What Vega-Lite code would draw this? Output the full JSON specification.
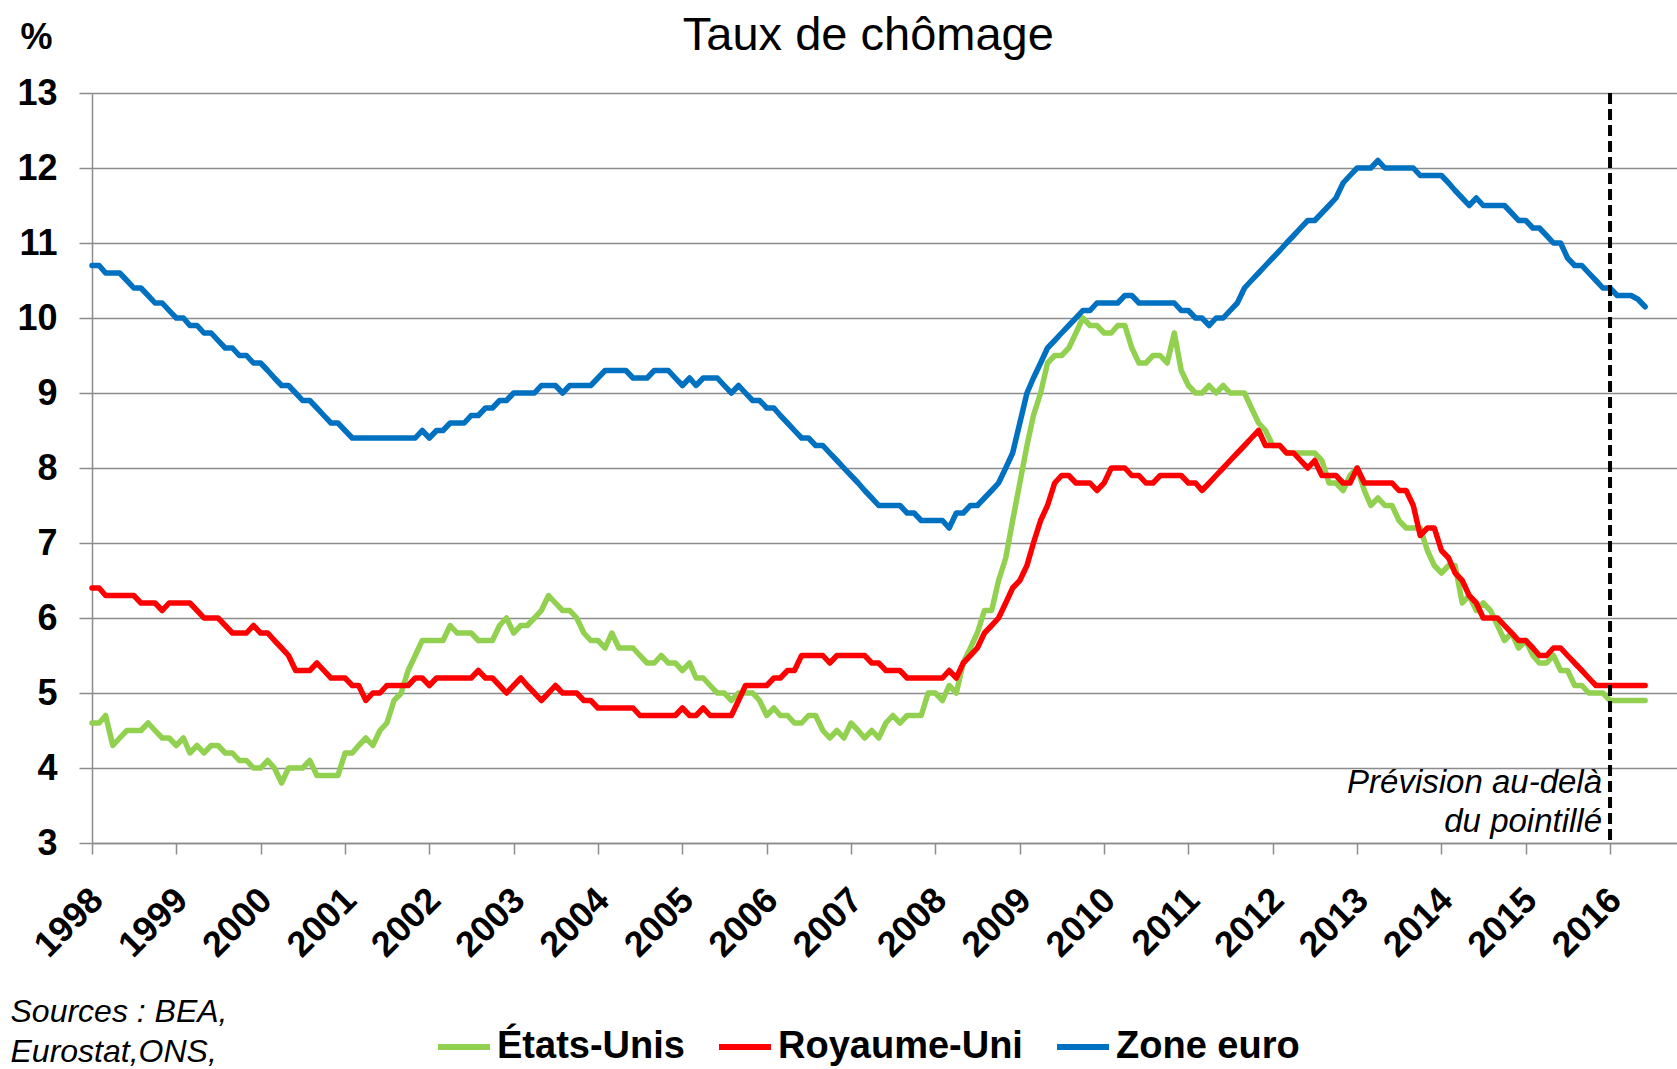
{
  "$schema": "https://vega.github.io/schema/vega-lite/v6.json",
  "width": 1585,
  "height": 750,
  "autosize": {"type": "none"},
  "padding": {"left": 92, "top": 93, "right": 0, "bottom": 226},
  "background": "white",
  "datasets": {
    "series": [
{"date":"1998-01-01","country":"États-Unis","rate":4.6},{"date":"1998-02-01","country":"États-Unis","rate":4.6},{"date":"1998-03-01","country":"États-Unis","rate":4.7},{"date":"1998-04-01","country":"États-Unis","rate":4.3},{"date":"1998-05-01","country":"États-Unis","rate":4.4},{"date":"1998-06-01","country":"États-Unis","rate":4.5},{"date":"1998-07-01","country":"États-Unis","rate":4.5},{"date":"1998-08-01","country":"États-Unis","rate":4.5},{"date":"1998-09-01","country":"États-Unis","rate":4.6},{"date":"1998-10-01","country":"États-Unis","rate":4.5},{"date":"1998-11-01","country":"États-Unis","rate":4.4},{"date":"1998-12-01","country":"États-Unis","rate":4.4},
{"date":"1999-01-01","country":"États-Unis","rate":4.3},{"date":"1999-02-01","country":"États-Unis","rate":4.4},{"date":"1999-03-01","country":"États-Unis","rate":4.2},{"date":"1999-04-01","country":"États-Unis","rate":4.3},{"date":"1999-05-01","country":"États-Unis","rate":4.2},{"date":"1999-06-01","country":"États-Unis","rate":4.3},{"date":"1999-07-01","country":"États-Unis","rate":4.3},{"date":"1999-08-01","country":"États-Unis","rate":4.2},{"date":"1999-09-01","country":"États-Unis","rate":4.2},{"date":"1999-10-01","country":"États-Unis","rate":4.1},{"date":"1999-11-01","country":"États-Unis","rate":4.1},{"date":"1999-12-01","country":"États-Unis","rate":4.0},
{"date":"2000-01-01","country":"États-Unis","rate":4.0},{"date":"2000-02-01","country":"États-Unis","rate":4.1},{"date":"2000-03-01","country":"États-Unis","rate":4.0},{"date":"2000-04-01","country":"États-Unis","rate":3.8},{"date":"2000-05-01","country":"États-Unis","rate":4.0},{"date":"2000-06-01","country":"États-Unis","rate":4.0},{"date":"2000-07-01","country":"États-Unis","rate":4.0},{"date":"2000-08-01","country":"États-Unis","rate":4.1},{"date":"2000-09-01","country":"États-Unis","rate":3.9},{"date":"2000-10-01","country":"États-Unis","rate":3.9},{"date":"2000-11-01","country":"États-Unis","rate":3.9},{"date":"2000-12-01","country":"États-Unis","rate":3.9},
{"date":"2001-01-01","country":"États-Unis","rate":4.2},{"date":"2001-02-01","country":"États-Unis","rate":4.2},{"date":"2001-03-01","country":"États-Unis","rate":4.3},{"date":"2001-04-01","country":"États-Unis","rate":4.4},{"date":"2001-05-01","country":"États-Unis","rate":4.3},{"date":"2001-06-01","country":"États-Unis","rate":4.5},{"date":"2001-07-01","country":"États-Unis","rate":4.6},{"date":"2001-08-01","country":"États-Unis","rate":4.9},{"date":"2001-09-01","country":"États-Unis","rate":5.0},{"date":"2001-10-01","country":"États-Unis","rate":5.3},{"date":"2001-11-01","country":"États-Unis","rate":5.5},{"date":"2001-12-01","country":"États-Unis","rate":5.7},
{"date":"2002-01-01","country":"États-Unis","rate":5.7},{"date":"2002-02-01","country":"États-Unis","rate":5.7},{"date":"2002-03-01","country":"États-Unis","rate":5.7},{"date":"2002-04-01","country":"États-Unis","rate":5.9},{"date":"2002-05-01","country":"États-Unis","rate":5.8},{"date":"2002-06-01","country":"États-Unis","rate":5.8},{"date":"2002-07-01","country":"États-Unis","rate":5.8},{"date":"2002-08-01","country":"États-Unis","rate":5.7},{"date":"2002-09-01","country":"États-Unis","rate":5.7},{"date":"2002-10-01","country":"États-Unis","rate":5.7},{"date":"2002-11-01","country":"États-Unis","rate":5.9},{"date":"2002-12-01","country":"États-Unis","rate":6.0},
{"date":"2003-01-01","country":"États-Unis","rate":5.8},{"date":"2003-02-01","country":"États-Unis","rate":5.9},{"date":"2003-03-01","country":"États-Unis","rate":5.9},{"date":"2003-04-01","country":"États-Unis","rate":6.0},{"date":"2003-05-01","country":"États-Unis","rate":6.1},{"date":"2003-06-01","country":"États-Unis","rate":6.3},{"date":"2003-07-01","country":"États-Unis","rate":6.2},{"date":"2003-08-01","country":"États-Unis","rate":6.1},{"date":"2003-09-01","country":"États-Unis","rate":6.1},{"date":"2003-10-01","country":"États-Unis","rate":6.0},{"date":"2003-11-01","country":"États-Unis","rate":5.8},{"date":"2003-12-01","country":"États-Unis","rate":5.7},
{"date":"2004-01-01","country":"États-Unis","rate":5.7},{"date":"2004-02-01","country":"États-Unis","rate":5.6},{"date":"2004-03-01","country":"États-Unis","rate":5.8},{"date":"2004-04-01","country":"États-Unis","rate":5.6},{"date":"2004-05-01","country":"États-Unis","rate":5.6},{"date":"2004-06-01","country":"États-Unis","rate":5.6},{"date":"2004-07-01","country":"États-Unis","rate":5.5},{"date":"2004-08-01","country":"États-Unis","rate":5.4},{"date":"2004-09-01","country":"États-Unis","rate":5.4},{"date":"2004-10-01","country":"États-Unis","rate":5.5},{"date":"2004-11-01","country":"États-Unis","rate":5.4},{"date":"2004-12-01","country":"États-Unis","rate":5.4},
{"date":"2005-01-01","country":"États-Unis","rate":5.3},{"date":"2005-02-01","country":"États-Unis","rate":5.4},{"date":"2005-03-01","country":"États-Unis","rate":5.2},{"date":"2005-04-01","country":"États-Unis","rate":5.2},{"date":"2005-05-01","country":"États-Unis","rate":5.1},{"date":"2005-06-01","country":"États-Unis","rate":5.0},{"date":"2005-07-01","country":"États-Unis","rate":5.0},{"date":"2005-08-01","country":"États-Unis","rate":4.9},{"date":"2005-09-01","country":"États-Unis","rate":5.0},{"date":"2005-10-01","country":"États-Unis","rate":5.0},{"date":"2005-11-01","country":"États-Unis","rate":5.0},{"date":"2005-12-01","country":"États-Unis","rate":4.9},
{"date":"2006-01-01","country":"États-Unis","rate":4.7},{"date":"2006-02-01","country":"États-Unis","rate":4.8},{"date":"2006-03-01","country":"États-Unis","rate":4.7},{"date":"2006-04-01","country":"États-Unis","rate":4.7},{"date":"2006-05-01","country":"États-Unis","rate":4.6},{"date":"2006-06-01","country":"États-Unis","rate":4.6},{"date":"2006-07-01","country":"États-Unis","rate":4.7},{"date":"2006-08-01","country":"États-Unis","rate":4.7},{"date":"2006-09-01","country":"États-Unis","rate":4.5},{"date":"2006-10-01","country":"États-Unis","rate":4.4},{"date":"2006-11-01","country":"États-Unis","rate":4.5},{"date":"2006-12-01","country":"États-Unis","rate":4.4},
{"date":"2007-01-01","country":"États-Unis","rate":4.6},{"date":"2007-02-01","country":"États-Unis","rate":4.5},{"date":"2007-03-01","country":"États-Unis","rate":4.4},{"date":"2007-04-01","country":"États-Unis","rate":4.5},{"date":"2007-05-01","country":"États-Unis","rate":4.4},{"date":"2007-06-01","country":"États-Unis","rate":4.6},{"date":"2007-07-01","country":"États-Unis","rate":4.7},{"date":"2007-08-01","country":"États-Unis","rate":4.6},{"date":"2007-09-01","country":"États-Unis","rate":4.7},{"date":"2007-10-01","country":"États-Unis","rate":4.7},{"date":"2007-11-01","country":"États-Unis","rate":4.7},{"date":"2007-12-01","country":"États-Unis","rate":5.0},
{"date":"2008-01-01","country":"États-Unis","rate":5.0},{"date":"2008-02-01","country":"États-Unis","rate":4.9},{"date":"2008-03-01","country":"États-Unis","rate":5.1},{"date":"2008-04-01","country":"États-Unis","rate":5.0},{"date":"2008-05-01","country":"États-Unis","rate":5.4},{"date":"2008-06-01","country":"États-Unis","rate":5.6},{"date":"2008-07-01","country":"États-Unis","rate":5.8},{"date":"2008-08-01","country":"États-Unis","rate":6.1},{"date":"2008-09-01","country":"États-Unis","rate":6.1},{"date":"2008-10-01","country":"États-Unis","rate":6.5},{"date":"2008-11-01","country":"États-Unis","rate":6.8},{"date":"2008-12-01","country":"États-Unis","rate":7.3},
{"date":"2009-01-01","country":"États-Unis","rate":7.8},{"date":"2009-02-01","country":"États-Unis","rate":8.3},{"date":"2009-03-01","country":"États-Unis","rate":8.7},{"date":"2009-04-01","country":"États-Unis","rate":9.0},{"date":"2009-05-01","country":"États-Unis","rate":9.4},{"date":"2009-06-01","country":"États-Unis","rate":9.5},{"date":"2009-07-01","country":"États-Unis","rate":9.5},{"date":"2009-08-01","country":"États-Unis","rate":9.6},{"date":"2009-09-01","country":"États-Unis","rate":9.8},{"date":"2009-10-01","country":"États-Unis","rate":10.0},{"date":"2009-11-01","country":"États-Unis","rate":9.9},{"date":"2009-12-01","country":"États-Unis","rate":9.9},
{"date":"2010-01-01","country":"États-Unis","rate":9.8},{"date":"2010-02-01","country":"États-Unis","rate":9.8},{"date":"2010-03-01","country":"États-Unis","rate":9.9},{"date":"2010-04-01","country":"États-Unis","rate":9.9},{"date":"2010-05-01","country":"États-Unis","rate":9.6},{"date":"2010-06-01","country":"États-Unis","rate":9.4},{"date":"2010-07-01","country":"États-Unis","rate":9.4},{"date":"2010-08-01","country":"États-Unis","rate":9.5},{"date":"2010-09-01","country":"États-Unis","rate":9.5},{"date":"2010-10-01","country":"États-Unis","rate":9.4},{"date":"2010-11-01","country":"États-Unis","rate":9.8},{"date":"2010-12-01","country":"États-Unis","rate":9.3},
{"date":"2011-01-01","country":"États-Unis","rate":9.1},{"date":"2011-02-01","country":"États-Unis","rate":9.0},{"date":"2011-03-01","country":"États-Unis","rate":9.0},{"date":"2011-04-01","country":"États-Unis","rate":9.1},{"date":"2011-05-01","country":"États-Unis","rate":9.0},{"date":"2011-06-01","country":"États-Unis","rate":9.1},{"date":"2011-07-01","country":"États-Unis","rate":9.0},{"date":"2011-08-01","country":"États-Unis","rate":9.0},{"date":"2011-09-01","country":"États-Unis","rate":9.0},{"date":"2011-10-01","country":"États-Unis","rate":8.8},{"date":"2011-11-01","country":"États-Unis","rate":8.6},{"date":"2011-12-01","country":"États-Unis","rate":8.5},
{"date":"2012-01-01","country":"États-Unis","rate":8.3},{"date":"2012-02-01","country":"États-Unis","rate":8.3},{"date":"2012-03-01","country":"États-Unis","rate":8.2},{"date":"2012-04-01","country":"États-Unis","rate":8.2},{"date":"2012-05-01","country":"États-Unis","rate":8.2},{"date":"2012-06-01","country":"États-Unis","rate":8.2},{"date":"2012-07-01","country":"États-Unis","rate":8.2},{"date":"2012-08-01","country":"États-Unis","rate":8.1},{"date":"2012-09-01","country":"États-Unis","rate":7.8},{"date":"2012-10-01","country":"États-Unis","rate":7.8},{"date":"2012-11-01","country":"États-Unis","rate":7.7},{"date":"2012-12-01","country":"États-Unis","rate":7.9},
{"date":"2013-01-01","country":"États-Unis","rate":8.0},{"date":"2013-02-01","country":"États-Unis","rate":7.7},{"date":"2013-03-01","country":"États-Unis","rate":7.5},{"date":"2013-04-01","country":"États-Unis","rate":7.6},{"date":"2013-05-01","country":"États-Unis","rate":7.5},{"date":"2013-06-01","country":"États-Unis","rate":7.5},{"date":"2013-07-01","country":"États-Unis","rate":7.3},{"date":"2013-08-01","country":"États-Unis","rate":7.2},{"date":"2013-09-01","country":"États-Unis","rate":7.2},{"date":"2013-10-01","country":"États-Unis","rate":7.2},{"date":"2013-11-01","country":"États-Unis","rate":6.9},{"date":"2013-12-01","country":"États-Unis","rate":6.7},
{"date":"2014-01-01","country":"États-Unis","rate":6.6},{"date":"2014-02-01","country":"États-Unis","rate":6.7},{"date":"2014-03-01","country":"États-Unis","rate":6.7},{"date":"2014-04-01","country":"États-Unis","rate":6.2},{"date":"2014-05-01","country":"États-Unis","rate":6.3},{"date":"2014-06-01","country":"États-Unis","rate":6.1},{"date":"2014-07-01","country":"États-Unis","rate":6.2},{"date":"2014-08-01","country":"États-Unis","rate":6.1},{"date":"2014-09-01","country":"États-Unis","rate":5.9},{"date":"2014-10-01","country":"États-Unis","rate":5.7},{"date":"2014-11-01","country":"États-Unis","rate":5.8},{"date":"2014-12-01","country":"États-Unis","rate":5.6},
{"date":"2015-01-01","country":"États-Unis","rate":5.7},{"date":"2015-02-01","country":"États-Unis","rate":5.5},{"date":"2015-03-01","country":"États-Unis","rate":5.4},{"date":"2015-04-01","country":"États-Unis","rate":5.4},{"date":"2015-05-01","country":"États-Unis","rate":5.5},{"date":"2015-06-01","country":"États-Unis","rate":5.3},{"date":"2015-07-01","country":"États-Unis","rate":5.3},{"date":"2015-08-01","country":"États-Unis","rate":5.1},{"date":"2015-09-01","country":"États-Unis","rate":5.1},{"date":"2015-10-01","country":"États-Unis","rate":5.0},{"date":"2015-11-01","country":"États-Unis","rate":5.0},{"date":"2015-12-01","country":"États-Unis","rate":5.0},
{"date":"2016-01-01","country":"États-Unis","rate":4.9},{"date":"2016-02-01","country":"États-Unis","rate":4.9},{"date":"2016-03-01","country":"États-Unis","rate":4.9},{"date":"2016-04-01","country":"États-Unis","rate":4.9},{"date":"2016-05-01","country":"États-Unis","rate":4.9},{"date":"2016-06-01","country":"États-Unis","rate":4.9},
{"date":"1998-01-01","country":"Royaume-Uni","rate":6.4},{"date":"1998-02-01","country":"Royaume-Uni","rate":6.4},{"date":"1998-03-01","country":"Royaume-Uni","rate":6.3},{"date":"1998-04-01","country":"Royaume-Uni","rate":6.3},{"date":"1998-05-01","country":"Royaume-Uni","rate":6.3},{"date":"1998-06-01","country":"Royaume-Uni","rate":6.3},{"date":"1998-07-01","country":"Royaume-Uni","rate":6.3},{"date":"1998-08-01","country":"Royaume-Uni","rate":6.2},{"date":"1998-09-01","country":"Royaume-Uni","rate":6.2},{"date":"1998-10-01","country":"Royaume-Uni","rate":6.2},{"date":"1998-11-01","country":"Royaume-Uni","rate":6.1},{"date":"1998-12-01","country":"Royaume-Uni","rate":6.2},
{"date":"1999-01-01","country":"Royaume-Uni","rate":6.2},{"date":"1999-02-01","country":"Royaume-Uni","rate":6.2},{"date":"1999-03-01","country":"Royaume-Uni","rate":6.2},{"date":"1999-04-01","country":"Royaume-Uni","rate":6.1},{"date":"1999-05-01","country":"Royaume-Uni","rate":6.0},{"date":"1999-06-01","country":"Royaume-Uni","rate":6.0},{"date":"1999-07-01","country":"Royaume-Uni","rate":6.0},{"date":"1999-08-01","country":"Royaume-Uni","rate":5.9},{"date":"1999-09-01","country":"Royaume-Uni","rate":5.8},{"date":"1999-10-01","country":"Royaume-Uni","rate":5.8},{"date":"1999-11-01","country":"Royaume-Uni","rate":5.8},{"date":"1999-12-01","country":"Royaume-Uni","rate":5.9},
{"date":"2000-01-01","country":"Royaume-Uni","rate":5.8},{"date":"2000-02-01","country":"Royaume-Uni","rate":5.8},{"date":"2000-03-01","country":"Royaume-Uni","rate":5.7},{"date":"2000-04-01","country":"Royaume-Uni","rate":5.6},{"date":"2000-05-01","country":"Royaume-Uni","rate":5.5},{"date":"2000-06-01","country":"Royaume-Uni","rate":5.3},{"date":"2000-07-01","country":"Royaume-Uni","rate":5.3},{"date":"2000-08-01","country":"Royaume-Uni","rate":5.3},{"date":"2000-09-01","country":"Royaume-Uni","rate":5.4},{"date":"2000-10-01","country":"Royaume-Uni","rate":5.3},{"date":"2000-11-01","country":"Royaume-Uni","rate":5.2},{"date":"2000-12-01","country":"Royaume-Uni","rate":5.2},
{"date":"2001-01-01","country":"Royaume-Uni","rate":5.2},{"date":"2001-02-01","country":"Royaume-Uni","rate":5.1},{"date":"2001-03-01","country":"Royaume-Uni","rate":5.1},{"date":"2001-04-01","country":"Royaume-Uni","rate":4.9},{"date":"2001-05-01","country":"Royaume-Uni","rate":5.0},{"date":"2001-06-01","country":"Royaume-Uni","rate":5.0},{"date":"2001-07-01","country":"Royaume-Uni","rate":5.1},{"date":"2001-08-01","country":"Royaume-Uni","rate":5.1},{"date":"2001-09-01","country":"Royaume-Uni","rate":5.1},{"date":"2001-10-01","country":"Royaume-Uni","rate":5.1},{"date":"2001-11-01","country":"Royaume-Uni","rate":5.2},{"date":"2001-12-01","country":"Royaume-Uni","rate":5.2},
{"date":"2002-01-01","country":"Royaume-Uni","rate":5.1},{"date":"2002-02-01","country":"Royaume-Uni","rate":5.2},{"date":"2002-03-01","country":"Royaume-Uni","rate":5.2},{"date":"2002-04-01","country":"Royaume-Uni","rate":5.2},{"date":"2002-05-01","country":"Royaume-Uni","rate":5.2},{"date":"2002-06-01","country":"Royaume-Uni","rate":5.2},{"date":"2002-07-01","country":"Royaume-Uni","rate":5.2},{"date":"2002-08-01","country":"Royaume-Uni","rate":5.3},{"date":"2002-09-01","country":"Royaume-Uni","rate":5.2},{"date":"2002-10-01","country":"Royaume-Uni","rate":5.2},{"date":"2002-11-01","country":"Royaume-Uni","rate":5.1},{"date":"2002-12-01","country":"Royaume-Uni","rate":5.0},
{"date":"2003-01-01","country":"Royaume-Uni","rate":5.1},{"date":"2003-02-01","country":"Royaume-Uni","rate":5.2},{"date":"2003-03-01","country":"Royaume-Uni","rate":5.1},{"date":"2003-04-01","country":"Royaume-Uni","rate":5.0},{"date":"2003-05-01","country":"Royaume-Uni","rate":4.9},{"date":"2003-06-01","country":"Royaume-Uni","rate":5.0},{"date":"2003-07-01","country":"Royaume-Uni","rate":5.1},{"date":"2003-08-01","country":"Royaume-Uni","rate":5.0},{"date":"2003-09-01","country":"Royaume-Uni","rate":5.0},{"date":"2003-10-01","country":"Royaume-Uni","rate":5.0},{"date":"2003-11-01","country":"Royaume-Uni","rate":4.9},{"date":"2003-12-01","country":"Royaume-Uni","rate":4.9},
{"date":"2004-01-01","country":"Royaume-Uni","rate":4.8},{"date":"2004-02-01","country":"Royaume-Uni","rate":4.8},{"date":"2004-03-01","country":"Royaume-Uni","rate":4.8},{"date":"2004-04-01","country":"Royaume-Uni","rate":4.8},{"date":"2004-05-01","country":"Royaume-Uni","rate":4.8},{"date":"2004-06-01","country":"Royaume-Uni","rate":4.8},{"date":"2004-07-01","country":"Royaume-Uni","rate":4.7},{"date":"2004-08-01","country":"Royaume-Uni","rate":4.7},{"date":"2004-09-01","country":"Royaume-Uni","rate":4.7},{"date":"2004-10-01","country":"Royaume-Uni","rate":4.7},{"date":"2004-11-01","country":"Royaume-Uni","rate":4.7},{"date":"2004-12-01","country":"Royaume-Uni","rate":4.7},
{"date":"2005-01-01","country":"Royaume-Uni","rate":4.8},{"date":"2005-02-01","country":"Royaume-Uni","rate":4.7},{"date":"2005-03-01","country":"Royaume-Uni","rate":4.7},{"date":"2005-04-01","country":"Royaume-Uni","rate":4.8},{"date":"2005-05-01","country":"Royaume-Uni","rate":4.7},{"date":"2005-06-01","country":"Royaume-Uni","rate":4.7},{"date":"2005-07-01","country":"Royaume-Uni","rate":4.7},{"date":"2005-08-01","country":"Royaume-Uni","rate":4.7},{"date":"2005-09-01","country":"Royaume-Uni","rate":4.9},{"date":"2005-10-01","country":"Royaume-Uni","rate":5.1},{"date":"2005-11-01","country":"Royaume-Uni","rate":5.1},{"date":"2005-12-01","country":"Royaume-Uni","rate":5.1},
{"date":"2006-01-01","country":"Royaume-Uni","rate":5.1},{"date":"2006-02-01","country":"Royaume-Uni","rate":5.2},{"date":"2006-03-01","country":"Royaume-Uni","rate":5.2},{"date":"2006-04-01","country":"Royaume-Uni","rate":5.3},{"date":"2006-05-01","country":"Royaume-Uni","rate":5.3},{"date":"2006-06-01","country":"Royaume-Uni","rate":5.5},{"date":"2006-07-01","country":"Royaume-Uni","rate":5.5},{"date":"2006-08-01","country":"Royaume-Uni","rate":5.5},{"date":"2006-09-01","country":"Royaume-Uni","rate":5.5},{"date":"2006-10-01","country":"Royaume-Uni","rate":5.4},{"date":"2006-11-01","country":"Royaume-Uni","rate":5.5},{"date":"2006-12-01","country":"Royaume-Uni","rate":5.5},
{"date":"2007-01-01","country":"Royaume-Uni","rate":5.5},{"date":"2007-02-01","country":"Royaume-Uni","rate":5.5},{"date":"2007-03-01","country":"Royaume-Uni","rate":5.5},{"date":"2007-04-01","country":"Royaume-Uni","rate":5.4},{"date":"2007-05-01","country":"Royaume-Uni","rate":5.4},{"date":"2007-06-01","country":"Royaume-Uni","rate":5.3},{"date":"2007-07-01","country":"Royaume-Uni","rate":5.3},{"date":"2007-08-01","country":"Royaume-Uni","rate":5.3},{"date":"2007-09-01","country":"Royaume-Uni","rate":5.2},{"date":"2007-10-01","country":"Royaume-Uni","rate":5.2},{"date":"2007-11-01","country":"Royaume-Uni","rate":5.2},{"date":"2007-12-01","country":"Royaume-Uni","rate":5.2},
{"date":"2008-01-01","country":"Royaume-Uni","rate":5.2},{"date":"2008-02-01","country":"Royaume-Uni","rate":5.2},{"date":"2008-03-01","country":"Royaume-Uni","rate":5.3},{"date":"2008-04-01","country":"Royaume-Uni","rate":5.2},{"date":"2008-05-01","country":"Royaume-Uni","rate":5.4},{"date":"2008-06-01","country":"Royaume-Uni","rate":5.5},{"date":"2008-07-01","country":"Royaume-Uni","rate":5.6},{"date":"2008-08-01","country":"Royaume-Uni","rate":5.8},{"date":"2008-09-01","country":"Royaume-Uni","rate":5.9},{"date":"2008-10-01","country":"Royaume-Uni","rate":6.0},{"date":"2008-11-01","country":"Royaume-Uni","rate":6.2},{"date":"2008-12-01","country":"Royaume-Uni","rate":6.4},
{"date":"2009-01-01","country":"Royaume-Uni","rate":6.5},{"date":"2009-02-01","country":"Royaume-Uni","rate":6.7},{"date":"2009-03-01","country":"Royaume-Uni","rate":7.0},{"date":"2009-04-01","country":"Royaume-Uni","rate":7.3},{"date":"2009-05-01","country":"Royaume-Uni","rate":7.5},{"date":"2009-06-01","country":"Royaume-Uni","rate":7.8},{"date":"2009-07-01","country":"Royaume-Uni","rate":7.9},{"date":"2009-08-01","country":"Royaume-Uni","rate":7.9},{"date":"2009-09-01","country":"Royaume-Uni","rate":7.8},{"date":"2009-10-01","country":"Royaume-Uni","rate":7.8},{"date":"2009-11-01","country":"Royaume-Uni","rate":7.8},{"date":"2009-12-01","country":"Royaume-Uni","rate":7.7},
{"date":"2010-01-01","country":"Royaume-Uni","rate":7.8},{"date":"2010-02-01","country":"Royaume-Uni","rate":8.0},{"date":"2010-03-01","country":"Royaume-Uni","rate":8.0},{"date":"2010-04-01","country":"Royaume-Uni","rate":8.0},{"date":"2010-05-01","country":"Royaume-Uni","rate":7.9},{"date":"2010-06-01","country":"Royaume-Uni","rate":7.9},{"date":"2010-07-01","country":"Royaume-Uni","rate":7.8},{"date":"2010-08-01","country":"Royaume-Uni","rate":7.8},{"date":"2010-09-01","country":"Royaume-Uni","rate":7.9},{"date":"2010-10-01","country":"Royaume-Uni","rate":7.9},{"date":"2010-11-01","country":"Royaume-Uni","rate":7.9},{"date":"2010-12-01","country":"Royaume-Uni","rate":7.9},
{"date":"2011-01-01","country":"Royaume-Uni","rate":7.8},{"date":"2011-02-01","country":"Royaume-Uni","rate":7.8},{"date":"2011-03-01","country":"Royaume-Uni","rate":7.7},{"date":"2011-04-01","country":"Royaume-Uni","rate":7.8},{"date":"2011-05-01","country":"Royaume-Uni","rate":7.9},{"date":"2011-06-01","country":"Royaume-Uni","rate":8.0},{"date":"2011-07-01","country":"Royaume-Uni","rate":8.1},{"date":"2011-08-01","country":"Royaume-Uni","rate":8.2},{"date":"2011-09-01","country":"Royaume-Uni","rate":8.3},{"date":"2011-10-01","country":"Royaume-Uni","rate":8.4},{"date":"2011-11-01","country":"Royaume-Uni","rate":8.5},{"date":"2011-12-01","country":"Royaume-Uni","rate":8.3},
{"date":"2012-01-01","country":"Royaume-Uni","rate":8.3},{"date":"2012-02-01","country":"Royaume-Uni","rate":8.3},{"date":"2012-03-01","country":"Royaume-Uni","rate":8.2},{"date":"2012-04-01","country":"Royaume-Uni","rate":8.2},{"date":"2012-05-01","country":"Royaume-Uni","rate":8.1},{"date":"2012-06-01","country":"Royaume-Uni","rate":8.0},{"date":"2012-07-01","country":"Royaume-Uni","rate":8.1},{"date":"2012-08-01","country":"Royaume-Uni","rate":7.9},{"date":"2012-09-01","country":"Royaume-Uni","rate":7.9},{"date":"2012-10-01","country":"Royaume-Uni","rate":7.9},{"date":"2012-11-01","country":"Royaume-Uni","rate":7.8},{"date":"2012-12-01","country":"Royaume-Uni","rate":7.8},
{"date":"2013-01-01","country":"Royaume-Uni","rate":8.0},{"date":"2013-02-01","country":"Royaume-Uni","rate":7.8},{"date":"2013-03-01","country":"Royaume-Uni","rate":7.8},{"date":"2013-04-01","country":"Royaume-Uni","rate":7.8},{"date":"2013-05-01","country":"Royaume-Uni","rate":7.8},{"date":"2013-06-01","country":"Royaume-Uni","rate":7.8},{"date":"2013-07-01","country":"Royaume-Uni","rate":7.7},{"date":"2013-08-01","country":"Royaume-Uni","rate":7.7},{"date":"2013-09-01","country":"Royaume-Uni","rate":7.5},{"date":"2013-10-01","country":"Royaume-Uni","rate":7.1},{"date":"2013-11-01","country":"Royaume-Uni","rate":7.2},{"date":"2013-12-01","country":"Royaume-Uni","rate":7.2},
{"date":"2014-01-01","country":"Royaume-Uni","rate":6.9},{"date":"2014-02-01","country":"Royaume-Uni","rate":6.8},{"date":"2014-03-01","country":"Royaume-Uni","rate":6.6},{"date":"2014-04-01","country":"Royaume-Uni","rate":6.5},{"date":"2014-05-01","country":"Royaume-Uni","rate":6.3},{"date":"2014-06-01","country":"Royaume-Uni","rate":6.2},{"date":"2014-07-01","country":"Royaume-Uni","rate":6.0},{"date":"2014-08-01","country":"Royaume-Uni","rate":6.0},{"date":"2014-09-01","country":"Royaume-Uni","rate":6.0},{"date":"2014-10-01","country":"Royaume-Uni","rate":5.9},{"date":"2014-11-01","country":"Royaume-Uni","rate":5.8},{"date":"2014-12-01","country":"Royaume-Uni","rate":5.7},
{"date":"2015-01-01","country":"Royaume-Uni","rate":5.7},{"date":"2015-02-01","country":"Royaume-Uni","rate":5.6},{"date":"2015-03-01","country":"Royaume-Uni","rate":5.5},{"date":"2015-04-01","country":"Royaume-Uni","rate":5.5},{"date":"2015-05-01","country":"Royaume-Uni","rate":5.6},{"date":"2015-06-01","country":"Royaume-Uni","rate":5.6},{"date":"2015-07-01","country":"Royaume-Uni","rate":5.5},{"date":"2015-08-01","country":"Royaume-Uni","rate":5.4},{"date":"2015-09-01","country":"Royaume-Uni","rate":5.3},{"date":"2015-10-01","country":"Royaume-Uni","rate":5.2},{"date":"2015-11-01","country":"Royaume-Uni","rate":5.1},{"date":"2015-12-01","country":"Royaume-Uni","rate":5.1},
{"date":"2016-01-01","country":"Royaume-Uni","rate":5.1},{"date":"2016-02-01","country":"Royaume-Uni","rate":5.1},{"date":"2016-03-01","country":"Royaume-Uni","rate":5.1},{"date":"2016-04-01","country":"Royaume-Uni","rate":5.1},{"date":"2016-05-01","country":"Royaume-Uni","rate":5.1},{"date":"2016-06-01","country":"Royaume-Uni","rate":5.1},
{"date":"1998-01-01","country":"Zone euro","rate":10.7},{"date":"1998-02-01","country":"Zone euro","rate":10.7},{"date":"1998-03-01","country":"Zone euro","rate":10.6},{"date":"1998-04-01","country":"Zone euro","rate":10.6},{"date":"1998-05-01","country":"Zone euro","rate":10.6},{"date":"1998-06-01","country":"Zone euro","rate":10.5},{"date":"1998-07-01","country":"Zone euro","rate":10.4},{"date":"1998-08-01","country":"Zone euro","rate":10.4},{"date":"1998-09-01","country":"Zone euro","rate":10.3},{"date":"1998-10-01","country":"Zone euro","rate":10.2},{"date":"1998-11-01","country":"Zone euro","rate":10.2},{"date":"1998-12-01","country":"Zone euro","rate":10.1},
{"date":"1999-01-01","country":"Zone euro","rate":10.0},{"date":"1999-02-01","country":"Zone euro","rate":10.0},{"date":"1999-03-01","country":"Zone euro","rate":9.9},{"date":"1999-04-01","country":"Zone euro","rate":9.9},{"date":"1999-05-01","country":"Zone euro","rate":9.8},{"date":"1999-06-01","country":"Zone euro","rate":9.8},{"date":"1999-07-01","country":"Zone euro","rate":9.7},{"date":"1999-08-01","country":"Zone euro","rate":9.6},{"date":"1999-09-01","country":"Zone euro","rate":9.6},{"date":"1999-10-01","country":"Zone euro","rate":9.5},{"date":"1999-11-01","country":"Zone euro","rate":9.5},{"date":"1999-12-01","country":"Zone euro","rate":9.4},
{"date":"2000-01-01","country":"Zone euro","rate":9.4},{"date":"2000-02-01","country":"Zone euro","rate":9.3},{"date":"2000-03-01","country":"Zone euro","rate":9.2},{"date":"2000-04-01","country":"Zone euro","rate":9.1},{"date":"2000-05-01","country":"Zone euro","rate":9.1},{"date":"2000-06-01","country":"Zone euro","rate":9.0},{"date":"2000-07-01","country":"Zone euro","rate":8.9},{"date":"2000-08-01","country":"Zone euro","rate":8.9},{"date":"2000-09-01","country":"Zone euro","rate":8.8},{"date":"2000-10-01","country":"Zone euro","rate":8.7},{"date":"2000-11-01","country":"Zone euro","rate":8.6},{"date":"2000-12-01","country":"Zone euro","rate":8.6},
{"date":"2001-01-01","country":"Zone euro","rate":8.5},{"date":"2001-02-01","country":"Zone euro","rate":8.4},{"date":"2001-03-01","country":"Zone euro","rate":8.4},{"date":"2001-04-01","country":"Zone euro","rate":8.4},{"date":"2001-05-01","country":"Zone euro","rate":8.4},{"date":"2001-06-01","country":"Zone euro","rate":8.4},{"date":"2001-07-01","country":"Zone euro","rate":8.4},{"date":"2001-08-01","country":"Zone euro","rate":8.4},{"date":"2001-09-01","country":"Zone euro","rate":8.4},{"date":"2001-10-01","country":"Zone euro","rate":8.4},{"date":"2001-11-01","country":"Zone euro","rate":8.4},{"date":"2001-12-01","country":"Zone euro","rate":8.5},
{"date":"2002-01-01","country":"Zone euro","rate":8.4},{"date":"2002-02-01","country":"Zone euro","rate":8.5},{"date":"2002-03-01","country":"Zone euro","rate":8.5},{"date":"2002-04-01","country":"Zone euro","rate":8.6},{"date":"2002-05-01","country":"Zone euro","rate":8.6},{"date":"2002-06-01","country":"Zone euro","rate":8.6},{"date":"2002-07-01","country":"Zone euro","rate":8.7},{"date":"2002-08-01","country":"Zone euro","rate":8.7},{"date":"2002-09-01","country":"Zone euro","rate":8.8},{"date":"2002-10-01","country":"Zone euro","rate":8.8},{"date":"2002-11-01","country":"Zone euro","rate":8.9},{"date":"2002-12-01","country":"Zone euro","rate":8.9},
{"date":"2003-01-01","country":"Zone euro","rate":9.0},{"date":"2003-02-01","country":"Zone euro","rate":9.0},{"date":"2003-03-01","country":"Zone euro","rate":9.0},{"date":"2003-04-01","country":"Zone euro","rate":9.0},{"date":"2003-05-01","country":"Zone euro","rate":9.1},{"date":"2003-06-01","country":"Zone euro","rate":9.1},{"date":"2003-07-01","country":"Zone euro","rate":9.1},{"date":"2003-08-01","country":"Zone euro","rate":9.0},{"date":"2003-09-01","country":"Zone euro","rate":9.1},{"date":"2003-10-01","country":"Zone euro","rate":9.1},{"date":"2003-11-01","country":"Zone euro","rate":9.1},{"date":"2003-12-01","country":"Zone euro","rate":9.1},
{"date":"2004-01-01","country":"Zone euro","rate":9.2},{"date":"2004-02-01","country":"Zone euro","rate":9.3},{"date":"2004-03-01","country":"Zone euro","rate":9.3},{"date":"2004-04-01","country":"Zone euro","rate":9.3},{"date":"2004-05-01","country":"Zone euro","rate":9.3},{"date":"2004-06-01","country":"Zone euro","rate":9.2},{"date":"2004-07-01","country":"Zone euro","rate":9.2},{"date":"2004-08-01","country":"Zone euro","rate":9.2},{"date":"2004-09-01","country":"Zone euro","rate":9.3},{"date":"2004-10-01","country":"Zone euro","rate":9.3},{"date":"2004-11-01","country":"Zone euro","rate":9.3},{"date":"2004-12-01","country":"Zone euro","rate":9.2},
{"date":"2005-01-01","country":"Zone euro","rate":9.1},{"date":"2005-02-01","country":"Zone euro","rate":9.2},{"date":"2005-03-01","country":"Zone euro","rate":9.1},{"date":"2005-04-01","country":"Zone euro","rate":9.2},{"date":"2005-05-01","country":"Zone euro","rate":9.2},{"date":"2005-06-01","country":"Zone euro","rate":9.2},{"date":"2005-07-01","country":"Zone euro","rate":9.1},{"date":"2005-08-01","country":"Zone euro","rate":9.0},{"date":"2005-09-01","country":"Zone euro","rate":9.1},{"date":"2005-10-01","country":"Zone euro","rate":9.0},{"date":"2005-11-01","country":"Zone euro","rate":8.9},{"date":"2005-12-01","country":"Zone euro","rate":8.9},
{"date":"2006-01-01","country":"Zone euro","rate":8.8},{"date":"2006-02-01","country":"Zone euro","rate":8.8},{"date":"2006-03-01","country":"Zone euro","rate":8.7},{"date":"2006-04-01","country":"Zone euro","rate":8.6},{"date":"2006-05-01","country":"Zone euro","rate":8.5},{"date":"2006-06-01","country":"Zone euro","rate":8.4},{"date":"2006-07-01","country":"Zone euro","rate":8.4},{"date":"2006-08-01","country":"Zone euro","rate":8.3},{"date":"2006-09-01","country":"Zone euro","rate":8.3},{"date":"2006-10-01","country":"Zone euro","rate":8.2},{"date":"2006-11-01","country":"Zone euro","rate":8.1},{"date":"2006-12-01","country":"Zone euro","rate":8.0},
{"date":"2007-01-01","country":"Zone euro","rate":7.9},{"date":"2007-02-01","country":"Zone euro","rate":7.8},{"date":"2007-03-01","country":"Zone euro","rate":7.7},{"date":"2007-04-01","country":"Zone euro","rate":7.6},{"date":"2007-05-01","country":"Zone euro","rate":7.5},{"date":"2007-06-01","country":"Zone euro","rate":7.5},{"date":"2007-07-01","country":"Zone euro","rate":7.5},{"date":"2007-08-01","country":"Zone euro","rate":7.5},{"date":"2007-09-01","country":"Zone euro","rate":7.4},{"date":"2007-10-01","country":"Zone euro","rate":7.4},{"date":"2007-11-01","country":"Zone euro","rate":7.3},{"date":"2007-12-01","country":"Zone euro","rate":7.3},
{"date":"2008-01-01","country":"Zone euro","rate":7.3},{"date":"2008-02-01","country":"Zone euro","rate":7.3},{"date":"2008-03-01","country":"Zone euro","rate":7.2},{"date":"2008-04-01","country":"Zone euro","rate":7.4},{"date":"2008-05-01","country":"Zone euro","rate":7.4},{"date":"2008-06-01","country":"Zone euro","rate":7.5},{"date":"2008-07-01","country":"Zone euro","rate":7.5},{"date":"2008-08-01","country":"Zone euro","rate":7.6},{"date":"2008-09-01","country":"Zone euro","rate":7.7},{"date":"2008-10-01","country":"Zone euro","rate":7.8},{"date":"2008-11-01","country":"Zone euro","rate":8.0},{"date":"2008-12-01","country":"Zone euro","rate":8.2},
{"date":"2009-01-01","country":"Zone euro","rate":8.6},{"date":"2009-02-01","country":"Zone euro","rate":9.0},{"date":"2009-03-01","country":"Zone euro","rate":9.2},{"date":"2009-04-01","country":"Zone euro","rate":9.4},{"date":"2009-05-01","country":"Zone euro","rate":9.6},{"date":"2009-06-01","country":"Zone euro","rate":9.7},{"date":"2009-07-01","country":"Zone euro","rate":9.8},{"date":"2009-08-01","country":"Zone euro","rate":9.9},{"date":"2009-09-01","country":"Zone euro","rate":10.0},{"date":"2009-10-01","country":"Zone euro","rate":10.1},{"date":"2009-11-01","country":"Zone euro","rate":10.1},{"date":"2009-12-01","country":"Zone euro","rate":10.2},
{"date":"2010-01-01","country":"Zone euro","rate":10.2},{"date":"2010-02-01","country":"Zone euro","rate":10.2},{"date":"2010-03-01","country":"Zone euro","rate":10.2},{"date":"2010-04-01","country":"Zone euro","rate":10.3},{"date":"2010-05-01","country":"Zone euro","rate":10.3},{"date":"2010-06-01","country":"Zone euro","rate":10.2},{"date":"2010-07-01","country":"Zone euro","rate":10.2},{"date":"2010-08-01","country":"Zone euro","rate":10.2},{"date":"2010-09-01","country":"Zone euro","rate":10.2},{"date":"2010-10-01","country":"Zone euro","rate":10.2},{"date":"2010-11-01","country":"Zone euro","rate":10.2},{"date":"2010-12-01","country":"Zone euro","rate":10.1},
{"date":"2011-01-01","country":"Zone euro","rate":10.1},{"date":"2011-02-01","country":"Zone euro","rate":10.0},{"date":"2011-03-01","country":"Zone euro","rate":10.0},{"date":"2011-04-01","country":"Zone euro","rate":9.9},{"date":"2011-05-01","country":"Zone euro","rate":10.0},{"date":"2011-06-01","country":"Zone euro","rate":10.0},{"date":"2011-07-01","country":"Zone euro","rate":10.1},{"date":"2011-08-01","country":"Zone euro","rate":10.2},{"date":"2011-09-01","country":"Zone euro","rate":10.4},{"date":"2011-10-01","country":"Zone euro","rate":10.5},{"date":"2011-11-01","country":"Zone euro","rate":10.6},{"date":"2011-12-01","country":"Zone euro","rate":10.7},
{"date":"2012-01-01","country":"Zone euro","rate":10.8},{"date":"2012-02-01","country":"Zone euro","rate":10.9},{"date":"2012-03-01","country":"Zone euro","rate":11.0},{"date":"2012-04-01","country":"Zone euro","rate":11.1},{"date":"2012-05-01","country":"Zone euro","rate":11.2},{"date":"2012-06-01","country":"Zone euro","rate":11.3},{"date":"2012-07-01","country":"Zone euro","rate":11.3},{"date":"2012-08-01","country":"Zone euro","rate":11.4},{"date":"2012-09-01","country":"Zone euro","rate":11.5},{"date":"2012-10-01","country":"Zone euro","rate":11.6},{"date":"2012-11-01","country":"Zone euro","rate":11.8},{"date":"2012-12-01","country":"Zone euro","rate":11.9},
{"date":"2013-01-01","country":"Zone euro","rate":12.0},{"date":"2013-02-01","country":"Zone euro","rate":12.0},{"date":"2013-03-01","country":"Zone euro","rate":12.0},{"date":"2013-04-01","country":"Zone euro","rate":12.1},{"date":"2013-05-01","country":"Zone euro","rate":12.0},{"date":"2013-06-01","country":"Zone euro","rate":12.0},{"date":"2013-07-01","country":"Zone euro","rate":12.0},{"date":"2013-08-01","country":"Zone euro","rate":12.0},{"date":"2013-09-01","country":"Zone euro","rate":12.0},{"date":"2013-10-01","country":"Zone euro","rate":11.9},{"date":"2013-11-01","country":"Zone euro","rate":11.9},{"date":"2013-12-01","country":"Zone euro","rate":11.9},
{"date":"2014-01-01","country":"Zone euro","rate":11.9},{"date":"2014-02-01","country":"Zone euro","rate":11.8},{"date":"2014-03-01","country":"Zone euro","rate":11.7},{"date":"2014-04-01","country":"Zone euro","rate":11.6},{"date":"2014-05-01","country":"Zone euro","rate":11.5},{"date":"2014-06-01","country":"Zone euro","rate":11.6},{"date":"2014-07-01","country":"Zone euro","rate":11.5},{"date":"2014-08-01","country":"Zone euro","rate":11.5},{"date":"2014-09-01","country":"Zone euro","rate":11.5},{"date":"2014-10-01","country":"Zone euro","rate":11.5},{"date":"2014-11-01","country":"Zone euro","rate":11.4},{"date":"2014-12-01","country":"Zone euro","rate":11.3},
{"date":"2015-01-01","country":"Zone euro","rate":11.3},{"date":"2015-02-01","country":"Zone euro","rate":11.2},{"date":"2015-03-01","country":"Zone euro","rate":11.2},{"date":"2015-04-01","country":"Zone euro","rate":11.1},{"date":"2015-05-01","country":"Zone euro","rate":11.0},{"date":"2015-06-01","country":"Zone euro","rate":11.0},{"date":"2015-07-01","country":"Zone euro","rate":10.8},{"date":"2015-08-01","country":"Zone euro","rate":10.7},{"date":"2015-09-01","country":"Zone euro","rate":10.7},{"date":"2015-10-01","country":"Zone euro","rate":10.6},{"date":"2015-11-01","country":"Zone euro","rate":10.5},{"date":"2015-12-01","country":"Zone euro","rate":10.4},
{"date":"2016-01-01","country":"Zone euro","rate":10.4},{"date":"2016-02-01","country":"Zone euro","rate":10.3},{"date":"2016-03-01","country":"Zone euro","rate":10.3},{"date":"2016-04-01","country":"Zone euro","rate":10.3},{"date":"2016-05-01","country":"Zone euro","rate":10.25},{"date":"2016-06-01","country":"Zone euro","rate":10.15}
    ],
    "marks": [{"date": "2016-01-01", "note": "Prévision au-delà\ndu pointillé"}],
    "heading": [{"label": "Taux de chômage"}]
  },
  "layer": [
    {
      "data": {"name": "series"},
      "mark": {"type": "line", "strokeWidth": 5.5, "strokeJoin": "round", "strokeCap": "round"},
      "encoding": {
        "x": {
          "field": "date", "type": "temporal",
          "scale": {"type": "utc", "domain": [{"year": 1998, "month": 1, "date": 1, "utc": true}, {"year": 2016, "month": 10, "date": 17, "utc": true}]},
          "axis": {
            "values": [
              {"year": 1998, "month": 1, "date": 1, "utc": true},{"year": 1999, "month": 1, "date": 1, "utc": true},{"year": 2000, "month": 1, "date": 1, "utc": true},{"year": 2001, "month": 1, "date": 1, "utc": true},{"year": 2002, "month": 1, "date": 1, "utc": true},{"year": 2003, "month": 1, "date": 1, "utc": true},{"year": 2004, "month": 1, "date": 1, "utc": true},{"year": 2005, "month": 1, "date": 1, "utc": true},{"year": 2006, "month": 1, "date": 1, "utc": true},{"year": 2007, "month": 1, "date": 1, "utc": true},{"year": 2008, "month": 1, "date": 1, "utc": true},{"year": 2009, "month": 1, "date": 1, "utc": true},{"year": 2010, "month": 1, "date": 1, "utc": true},{"year": 2011, "month": 1, "date": 1, "utc": true},{"year": 2012, "month": 1, "date": 1, "utc": true},{"year": 2013, "month": 1, "date": 1, "utc": true},{"year": 2014, "month": 1, "date": 1, "utc": true},{"year": 2015, "month": 1, "date": 1, "utc": true},{"year": 2016, "month": 1, "date": 1, "utc": true}
            ],
            "format": "%Y", "formatType": "utc",
            "grid": false, "tickSize": 11,
            "labelAngle": -45, "labelAlign": "right", "labelBaseline": "middle",
            "labelPadding": 40, "labelOffset": 5,
            "labelFontSize": 36, "labelFontWeight": "bold",
            "labelFlush": false, "labelOverlap": false,
            "title": ["Sources : BEA,", "Eurostat,ONS,"],
            "titleFontStyle": "italic", "titleFontWeight": "normal", "titleFontSize": 32,
            "titleAlign": "left", "titleBaseline": "alphabetic", "titleAnchor": "start",
            "titleX": -82, "titleY": 178, "titleLineHeight": 40
          }
        },
        "y": {
          "field": "rate", "type": "quantitative",
          "scale": {"domain": [3, 13], "nice": false, "zero": false},
          "axis": {
            "values": [3, 4, 5, 6, 7, 8, 9, 10, 11, 12, 13], "format": "d",
            "grid": true, "tickSize": 13, "labelPadding": 22,
            "labelFontSize": 36, "labelFontWeight": "bold",
            "title": "%", "titleAngle": 0, "titleAlign": "left", "titleBaseline": "alphabetic",
            "titleX": -72, "titleY": -45, "titleFontSize": 36, "titleFontWeight": "bold"
          }
        },
        "color": {
          "field": "country", "type": "nominal",
          "scale": {"domain": ["États-Unis", "Royaume-Uni", "Zone euro"], "range": ["#92D050", "#FF0000", "#0070C0"]},
          "legend": {
            "orient": "none", "legendX": 343, "legendY": 925, "direction": "horizontal", "title": null,
            "symbolType": "stroke", "symbolStrokeWidth": 6, "symbolSize": 2704,
            "labelFontSize": 38, "labelFontWeight": "bold", "labelColor": "black",
            "labelOffset": 4, "columnPadding": 22, "padding": 0, "labelLimit": 0
          }
        }
      }
    },
    {
      "data": {"name": "marks"},
      "mark": {"type": "rule", "strokeDash": [11, 5], "strokeWidth": 4, "color": "black"},
      "encoding": {
        "x": {"field": "date", "type": "temporal"},
        "y": {"datum": 13},
        "y2": {"datum": 3}
      }
    },
    {
      "data": {"name": "marks"},
      "mark": {"type": "text", "align": "right", "baseline": "alphabetic", "dx": -8, "fontSize": 33, "fontStyle": "italic", "font": "Liberation Sans", "color": "black", "lineBreak": "\n", "lineHeight": 39},
      "encoding": {
        "x": {"field": "date", "type": "temporal"},
        "y": {"datum": 3.667},
        "text": {"field": "note"}
      }
    },
    {
      "data": {"name": "heading"},
      "mark": {"type": "text", "align": "center", "baseline": "alphabetic", "fontSize": 47, "font": "Liberation Sans", "color": "black"},
      "encoding": {
        "x": {"datum": {"year": 2007, "month": 3, "date": 17, "utc": true}, "type": "temporal"},
        "y": {"datum": 13.573},
        "text": {"field": "label"}
      }
    }
  ],
  "config": {
    "view": {"stroke": null},
    "font": "Liberation Sans",
    "axis": {
      "domainColor": "#8c8c8c", "domainWidth": 1.5,
      "tickColor": "#8c8c8c", "tickWidth": 1.5,
      "gridColor": "#8c8c8c", "gridWidth": 1.5,
      "labelColor": "black", "titleColor": "black",
      "labelFont": "Liberation Sans", "titleFont": "Liberation Sans"
    }
  }
}
